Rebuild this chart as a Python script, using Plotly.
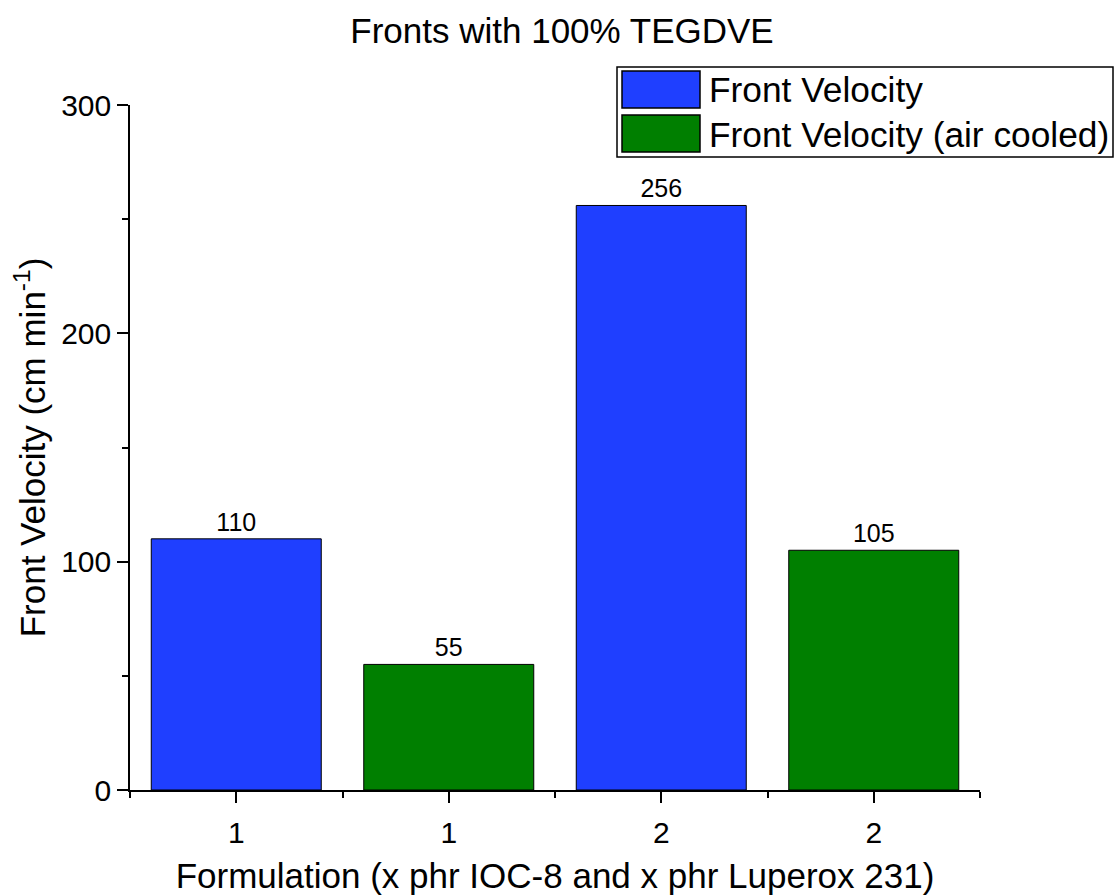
import plotly.graph_objects as go

# Front velocity results (cm/min) for each formulation run
positions = [0, 1, 2, 3]
tick_labels = ["1", "1", "2", "2"]
series_names = ["Front Velocity", "Front Velocity (air cooled)"]
normal_x = [0, 2]
normal_v = [110, 256]
cooled_x = [1, 3]
cooled_v = [55, 105]

BLUE = "#1f3fff"
GREEN = "#007f00"
FONT = "Liberation Sans, Arial, sans-serif"

fig = go.Figure()
fig.add_trace(go.Bar(
    x=normal_x, y=normal_v, name=series_names[0], width=0.8,
    marker=dict(color=BLUE, line=dict(color="black", width=1)),
    text=[str(v) for v in normal_v], textposition="outside",
    textfont=dict(size=25, color="black", family=FONT), cliponaxis=False,
    showlegend=False,
))
fig.add_trace(go.Bar(
    x=cooled_x, y=cooled_v, name=series_names[1], width=0.8,
    marker=dict(color=GREEN, line=dict(color="black", width=1)),
    text=[str(v) for v in cooled_v], textposition="outside",
    textfont=dict(size=25, color="black", family=FONT), cliponaxis=False,
    showlegend=False,
))

# Legend box drawn in pixel-aligned paper coordinates
W, H = 1116, 896
L, R, T, B = 130, 136, 105, 106
pw, ph = W - L - R, H - T - B


def px(x):
    return (x - L) / pw


def py(y):
    return (H - B - y) / ph


shapes = [
    dict(type="rect", xref="paper", yref="paper",
         x0=px(617), x1=px(1113), y0=py(157), y1=py(67),
         line=dict(color="black", width=1.5), fillcolor="white", layer="above"),
]
annotations = []
for i, (name, col) in enumerate(zip(series_names, [BLUE, GREEN])):
    top = 71 + i * 44
    shapes.append(dict(type="rect", xref="paper", yref="paper",
                       x0=px(622), x1=px(700), y0=py(top + 37), y1=py(top),
                       line=dict(color="black", width=1.5), fillcolor=col, layer="above"))
    annotations.append(dict(xref="paper", yref="paper", x=px(707), y=py(top + 19),
                            text=name, showarrow=False, xanchor="left", yanchor="middle",
                            font=dict(size=35.3, color="black", family=FONT)))

fig.update_layout(
    width=W, height=H,
    margin=dict(l=L, r=R, t=T, b=B, autoexpand=False),
    paper_bgcolor="white", plot_bgcolor="white",
    font=dict(family=FONT, color="black"),
    title=dict(text="Fronts with 100% TEGDVE", x=562 / W, xanchor="center",
               y=1 - 31 / H, yanchor="middle", font=dict(size=35, family=FONT)),
    bargap=0.2,
    shapes=shapes,
    annotations=annotations,
    showlegend=False,
)

fig.update_xaxes(
    range=[-0.5, 3.5], tickvals=positions, ticktext=tick_labels,
    showline=True, linecolor="black", linewidth=1.5, zeroline=False, showgrid=False,
    ticks="outside", ticklen=11, tickwidth=1.5, tickcolor="black",
    tickfont=dict(size=30, family=FONT), ticklabelstandoff=4,
    minor=dict(tickvals=[-0.5, 0.5, 1.5, 2.5, 3.5], ticks="outside", ticklen=6,
               tickwidth=1.5, tickcolor="black", showgrid=False),
    title=dict(text="Formulation (x phr IOC-8 and x phr Luperox 231)",
               font=dict(size=35, family=FONT), standoff=16),
)
fig.update_yaxes(
    range=[0, 300], tickvals=[0, 100, 200, 300],
    showline=True, linecolor="black", linewidth=1.5, zeroline=False, showgrid=False,
    ticks="outside", ticklen=11, tickwidth=1.5, tickcolor="black",
    tickfont=dict(size=30, family=FONT), ticklabelstandoff=0,
    minor=dict(tickvals=[50, 150, 250], ticks="outside", ticklen=6,
               tickwidth=1.5, tickcolor="black", showgrid=False),
    title=dict(text="Front Velocity (cm min<sup>-1</sup>)",
               font=dict(size=35, family=FONT), standoff=5),
)

fig.write_html("out.html")
